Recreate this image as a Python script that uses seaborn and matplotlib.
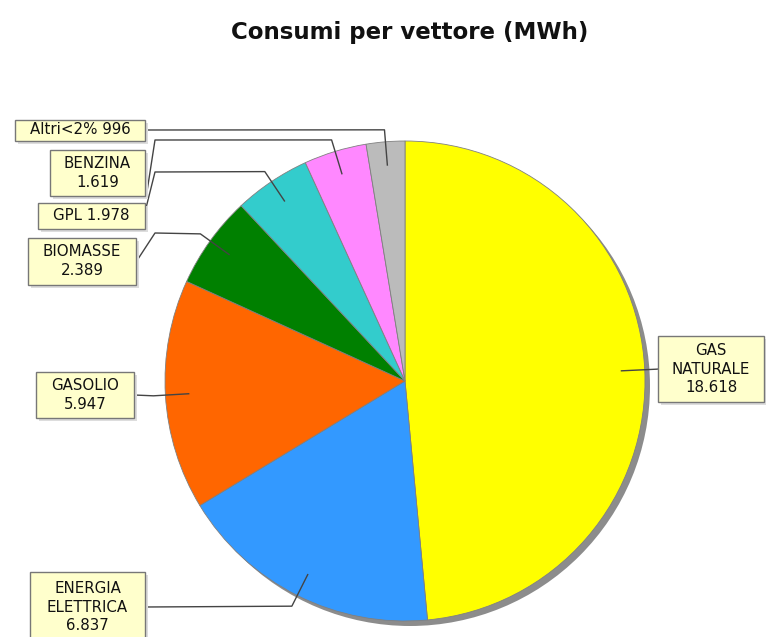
import matplotlib
matplotlib.use("Agg")
import matplotlib.pyplot as plt
from matplotlib.patches import Circle, Rectangle
import numpy as np
import seaborn as sns

# ---- data ----
categories = ["GAS\nNATURALE", "ENERGIA\nELETTRICA", "GASOLIO", "BIOMASSE", "GPL", "BENZINA", "Altri<2%"]
values = [18618, 6837, 5947, 2389, 1978, 1619, 996]
value_labels = ["18.618", "6.837", "5.947", "2.389", "1.978", "1.619", "996"]
label_text = ["GAS\nNATURALE\n18.618", "ENERGIA\nELETTRICA\n6.837", "GASOLIO\n5.947",
              "BIOMASSE\n2.389", "GPL 1.978", "BENZINA\n1.619", "Altri<2% 996"]
colors = ["#FFFF00", "#3399FF", "#FF6600", "#008000", "#33CCCC", "#FF88FF", "#BBBBBB"]
title = "Consumi per vettore (MWh)"

# ---- layout (pixels, y measured from top) ----
W, H = 766, 637
CX, CY, R = 405, 381, 240
boxes = [  # x0, y0, x1, y1
    (658, 336, 764, 402),
    (30, 572, 145, 650),
    (36, 372, 134, 418),
    (28, 238, 136, 285),
    (38, 203, 145, 229),
    (50, 150, 145, 196),
    (15, 120, 145, 141),
]
text_y = [369, 607, 395, 261, 216, 173, 130]
routes = [
    [(658, 369)],
    [(145, 607)],
    [(134, 395)],
    [(155, 233), (138, 259)],
    [(155, 172), (146, 208)],
    [(155, 140), (146, 198)],
    [(145, 130)],
]

sns.set_theme(style="white")
plt.rcParams["font.family"] = ["DejaVu Sans"]

fig = plt.figure(figsize=(W / 100, H / 100), dpi=100)
fig.patch.set_facecolor("white")
ax = fig.add_axes([0, 0, 1, 1])

def py(y):
    return H - y

# shadow of the pie
ax.add_patch(Circle((CX + 5, py(CY) - 5), R, facecolor="#8c8c8c", edgecolor="none", zorder=1))

wedges, _ = ax.pie(values, colors=colors, startangle=90, counterclock=False,
                   center=(CX, py(CY)), radius=R,
                   wedgeprops=dict(edgecolor="#808080", linewidth=0.6, zorder=2))
for w in wedges:
    w.set_zorder(2)

# labels and connector lines
for i, w in enumerate(wedges):
    mid = np.deg2rad((w.theta1 + w.theta2) / 2)
    p_in = (CX + 0.9 * R * np.cos(mid), py(CY) + 0.9 * R * np.sin(mid))
    p_el = (CX + 1.05 * R * np.cos(mid), py(CY) + 1.05 * R * np.sin(mid))
    pts = [p_in, p_el] + [(x, py(y)) for x, y in routes[i]]
    xs, ys = zip(*pts)
    ax.plot(xs, ys, color="#444444", lw=1.0, zorder=3, solid_capstyle="butt")

    x0, y0, x1, y1 = boxes[i]
    ax.add_patch(Rectangle((x0 + 3, py(y1) - 3), x1 - x0, y1 - y0,
                           facecolor="#dddddd", edgecolor="none", zorder=4))
    ax.add_patch(Rectangle((x0, py(y1)), x1 - x0, y1 - y0,
                           facecolor="#FFFFCC", edgecolor="#777777", lw=1.0, zorder=5))
    ax.text((x0 + x1) / 2, py(text_y[i]), label_text[i], ha="center", va="center",
            fontsize=10.8, color="#111111", linespacing=1.3, zorder=6)

ax.text(410, py(33), title, ha="center", va="center", fontsize=16.5,
        fontweight="bold", color="#111111")

ax.set_xlim(0, W)
ax.set_ylim(0, H)
ax.set_aspect("equal")
ax.axis("off")

fig.savefig("out.png", dpi=100, facecolor="white")
